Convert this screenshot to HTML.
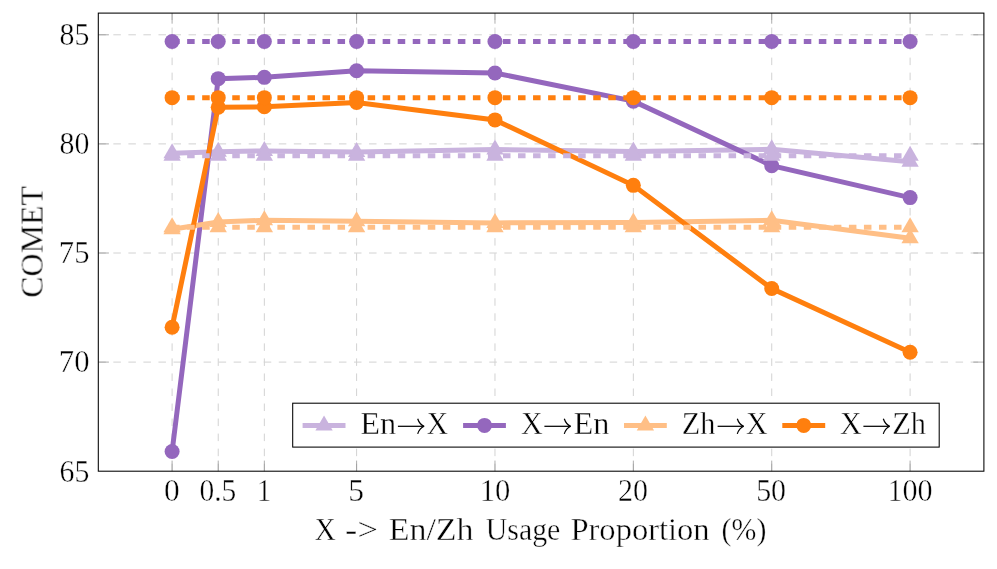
<!DOCTYPE html>
<html><head><meta charset="utf-8"><title>COMET vs Usage Proportion</title>
<style>
html,body{margin:0;padding:0;background:#fff;}
body{width:997px;height:569px;overflow:hidden;font-family:"Liberation Serif",serif;}
svg{display:block;}
text{font-family:"Liberation Serif",serif;fill:#000;stroke:#fff;stroke-width:0.4px;}
</style></head><body>
<svg width="997" height="569" viewBox="0 0 997 569">
<rect x="0" y="0" width="997" height="569" fill="#fff"/>
<g stroke="#d2d2d2" stroke-width="1" stroke-dasharray="7.52 7.52" fill="none">
<line x1="172.10" y1="471.2" x2="172.10" y2="13.1"/>
<line x1="218.22" y1="471.2" x2="218.22" y2="13.1"/>
<line x1="264.35" y1="471.2" x2="264.35" y2="13.1"/>
<line x1="356.60" y1="471.2" x2="356.60" y2="13.1"/>
<line x1="494.98" y1="471.2" x2="494.98" y2="13.1"/>
<line x1="633.35" y1="471.2" x2="633.35" y2="13.1"/>
<line x1="771.73" y1="471.2" x2="771.73" y2="13.1"/>
<line x1="910.10" y1="471.2" x2="910.10" y2="13.1"/>
<line x1="98.3" y1="362.10" x2="983.9" y2="362.10"/>
<line x1="98.3" y1="253.00" x2="983.9" y2="253.00"/>
<line x1="98.3" y1="143.90" x2="983.9" y2="143.90"/>
<line x1="98.3" y1="34.80" x2="983.9" y2="34.80"/>
</g>
<g stroke="#808080" stroke-width="0.65" fill="none">
<line x1="172.10" y1="471.2" x2="172.10" y2="460.59999999999997"/>
<line x1="172.10" y1="13.1" x2="172.10" y2="23.7"/>
<line x1="218.22" y1="471.2" x2="218.22" y2="460.59999999999997"/>
<line x1="218.22" y1="13.1" x2="218.22" y2="23.7"/>
<line x1="264.35" y1="471.2" x2="264.35" y2="460.59999999999997"/>
<line x1="264.35" y1="13.1" x2="264.35" y2="23.7"/>
<line x1="356.60" y1="471.2" x2="356.60" y2="460.59999999999997"/>
<line x1="356.60" y1="13.1" x2="356.60" y2="23.7"/>
<line x1="494.98" y1="471.2" x2="494.98" y2="460.59999999999997"/>
<line x1="494.98" y1="13.1" x2="494.98" y2="23.7"/>
<line x1="633.35" y1="471.2" x2="633.35" y2="460.59999999999997"/>
<line x1="633.35" y1="13.1" x2="633.35" y2="23.7"/>
<line x1="771.73" y1="471.2" x2="771.73" y2="460.59999999999997"/>
<line x1="771.73" y1="13.1" x2="771.73" y2="23.7"/>
<line x1="910.10" y1="471.2" x2="910.10" y2="460.59999999999997"/>
<line x1="910.10" y1="13.1" x2="910.10" y2="23.7"/>
<line x1="98.3" y1="362.10" x2="108.89999999999999" y2="362.10"/>
<line x1="983.9" y1="362.10" x2="973.3" y2="362.10"/>
<line x1="98.3" y1="253.00" x2="108.89999999999999" y2="253.00"/>
<line x1="983.9" y1="253.00" x2="973.3" y2="253.00"/>
<line x1="98.3" y1="143.90" x2="108.89999999999999" y2="143.90"/>
<line x1="983.9" y1="143.90" x2="973.3" y2="143.90"/>
<line x1="98.3" y1="34.80" x2="108.89999999999999" y2="34.80"/>
<line x1="983.9" y1="34.80" x2="973.3" y2="34.80"/>
</g>
<polyline points="172.10,153.28 218.22,151.76 264.35,150.88 356.60,151.97 494.98,149.57 633.35,151.54 771.73,149.35 910.10,161.79" fill="none" stroke="#c9b3de" stroke-width="5.0" stroke-linejoin="miter"/>
<path d="M172.10,143.28 L180.76,158.28 L163.44,158.28 Z" fill="#c9b3de"/>
<path d="M218.22,141.76 L226.88,156.76 L209.56,156.76 Z" fill="#c9b3de"/>
<path d="M264.35,140.88 L273.01,155.88 L255.69,155.88 Z" fill="#c9b3de"/>
<path d="M356.60,141.97 L365.26,156.97 L347.94,156.97 Z" fill="#c9b3de"/>
<path d="M494.98,139.57 L503.64,154.57 L486.31,154.57 Z" fill="#c9b3de"/>
<path d="M633.35,141.54 L642.01,156.54 L624.69,156.54 Z" fill="#c9b3de"/>
<path d="M771.73,139.35 L780.38,154.35 L763.07,154.35 Z" fill="#c9b3de"/>
<path d="M910.10,151.79 L918.76,166.79 L901.44,166.79 Z" fill="#c9b3de"/>
<polyline points="172.10,451.56 218.22,78.66 264.35,77.35 356.60,70.80 494.98,72.98 633.35,101.13 771.73,165.72 910.10,197.58" fill="none" stroke="#9467bd" stroke-width="5.0" stroke-linejoin="miter"/>
<circle cx="172.10" cy="451.56" r="7.5" fill="#9467bd"/>
<circle cx="218.22" cy="78.66" r="7.5" fill="#9467bd"/>
<circle cx="264.35" cy="77.35" r="7.5" fill="#9467bd"/>
<circle cx="356.60" cy="70.80" r="7.5" fill="#9467bd"/>
<circle cx="494.98" cy="72.98" r="7.5" fill="#9467bd"/>
<circle cx="633.35" cy="101.13" r="7.5" fill="#9467bd"/>
<circle cx="771.73" cy="165.72" r="7.5" fill="#9467bd"/>
<circle cx="910.10" cy="197.58" r="7.5" fill="#9467bd"/>
<polyline points="172.10,229.22 218.22,222.02 264.35,220.27 356.60,221.36 494.98,222.89 633.35,222.45 771.73,220.27 910.10,238.16" fill="none" stroke="#ffbf86" stroke-width="5.0" stroke-linejoin="miter"/>
<path d="M172.10,219.22 L180.76,234.22 L163.44,234.22 Z" fill="#ffbf86"/>
<path d="M218.22,212.02 L226.88,227.02 L209.56,227.02 Z" fill="#ffbf86"/>
<path d="M264.35,210.27 L273.01,225.27 L255.69,225.27 Z" fill="#ffbf86"/>
<path d="M356.60,211.36 L365.26,226.36 L347.94,226.36 Z" fill="#ffbf86"/>
<path d="M494.98,212.89 L503.64,227.89 L486.31,227.89 Z" fill="#ffbf86"/>
<path d="M633.35,212.45 L642.01,227.45 L624.69,227.45 Z" fill="#ffbf86"/>
<path d="M771.73,210.27 L780.38,225.27 L763.07,225.27 Z" fill="#ffbf86"/>
<path d="M910.10,228.16 L918.76,243.16 L901.44,243.16 Z" fill="#ffbf86"/>
<polyline points="172.10,327.19 218.22,107.24 264.35,106.81 356.60,102.44 494.98,119.90 633.35,185.36 771.73,288.57 910.10,352.28" fill="none" stroke="#ff7f0e" stroke-width="5.0" stroke-linejoin="miter"/>
<circle cx="172.10" cy="327.19" r="7.5" fill="#ff7f0e"/>
<circle cx="218.22" cy="107.24" r="7.5" fill="#ff7f0e"/>
<circle cx="264.35" cy="106.81" r="7.5" fill="#ff7f0e"/>
<circle cx="356.60" cy="102.44" r="7.5" fill="#ff7f0e"/>
<circle cx="494.98" cy="119.90" r="7.5" fill="#ff7f0e"/>
<circle cx="633.35" cy="185.36" r="7.5" fill="#ff7f0e"/>
<circle cx="771.73" cy="288.57" r="7.5" fill="#ff7f0e"/>
<circle cx="910.10" cy="352.28" r="7.5" fill="#ff7f0e"/>
<line x1="172.10" y1="155.68" x2="910.10" y2="155.68" stroke="#c9b3de" stroke-width="5.0" stroke-dasharray="7.52 7.52"/>
<path d="M172.10,145.68 L180.76,160.68 L163.44,160.68 Z" fill="#c9b3de"/>
<path d="M218.22,145.68 L226.88,160.68 L209.56,160.68 Z" fill="#c9b3de"/>
<path d="M264.35,145.68 L273.01,160.68 L255.69,160.68 Z" fill="#c9b3de"/>
<path d="M356.60,145.68 L365.26,160.68 L347.94,160.68 Z" fill="#c9b3de"/>
<path d="M494.98,145.68 L503.64,160.68 L486.31,160.68 Z" fill="#c9b3de"/>
<path d="M633.35,145.68 L642.01,160.68 L624.69,160.68 Z" fill="#c9b3de"/>
<path d="M771.73,145.68 L780.38,160.68 L763.07,160.68 Z" fill="#c9b3de"/>
<path d="M910.10,145.68 L918.76,160.68 L901.44,160.68 Z" fill="#c9b3de"/>
<line x1="172.10" y1="41.56" x2="910.10" y2="41.56" stroke="#9467bd" stroke-width="5.0" stroke-dasharray="7.52 7.52"/>
<circle cx="172.10" cy="41.56" r="7.5" fill="#9467bd"/>
<circle cx="218.22" cy="41.56" r="7.5" fill="#9467bd"/>
<circle cx="264.35" cy="41.56" r="7.5" fill="#9467bd"/>
<circle cx="356.60" cy="41.56" r="7.5" fill="#9467bd"/>
<circle cx="494.98" cy="41.56" r="7.5" fill="#9467bd"/>
<circle cx="633.35" cy="41.56" r="7.5" fill="#9467bd"/>
<circle cx="771.73" cy="41.56" r="7.5" fill="#9467bd"/>
<circle cx="910.10" cy="41.56" r="7.5" fill="#9467bd"/>
<line x1="172.10" y1="227.25" x2="910.10" y2="227.25" stroke="#ffbf86" stroke-width="5.0" stroke-dasharray="7.52 7.52"/>
<path d="M172.10,217.25 L180.76,232.25 L163.44,232.25 Z" fill="#ffbf86"/>
<path d="M218.22,217.25 L226.88,232.25 L209.56,232.25 Z" fill="#ffbf86"/>
<path d="M264.35,217.25 L273.01,232.25 L255.69,232.25 Z" fill="#ffbf86"/>
<path d="M356.60,217.25 L365.26,232.25 L347.94,232.25 Z" fill="#ffbf86"/>
<path d="M494.98,217.25 L503.64,232.25 L486.31,232.25 Z" fill="#ffbf86"/>
<path d="M633.35,217.25 L642.01,232.25 L624.69,232.25 Z" fill="#ffbf86"/>
<path d="M771.73,217.25 L780.38,232.25 L763.07,232.25 Z" fill="#ffbf86"/>
<path d="M910.10,217.25 L918.76,232.25 L901.44,232.25 Z" fill="#ffbf86"/>
<line x1="172.10" y1="97.64" x2="910.10" y2="97.64" stroke="#ff7f0e" stroke-width="5.0" stroke-dasharray="7.52 7.52"/>
<circle cx="172.10" cy="97.64" r="7.5" fill="#ff7f0e"/>
<circle cx="218.22" cy="97.64" r="7.5" fill="#ff7f0e"/>
<circle cx="264.35" cy="97.64" r="7.5" fill="#ff7f0e"/>
<circle cx="356.60" cy="97.64" r="7.5" fill="#ff7f0e"/>
<circle cx="494.98" cy="97.64" r="7.5" fill="#ff7f0e"/>
<circle cx="633.35" cy="97.64" r="7.5" fill="#ff7f0e"/>
<circle cx="771.73" cy="97.64" r="7.5" fill="#ff7f0e"/>
<circle cx="910.10" cy="97.64" r="7.5" fill="#ff7f0e"/>
<rect x="98.3" y="13.1" width="885.60" height="458.10" fill="none" stroke="#000" stroke-width="1.05"/>
<rect x="292.7" y="403.2" width="646.50" height="43.90" fill="#fff" stroke="#000" stroke-width="1.05"/>
<g style="opacity:0.999">
<line x1="302.6" y1="425.4" x2="345.5" y2="425.4" stroke="#c9b3de" stroke-width="5.0"/>
<path d="M324.05,415.40 L332.71,430.40 L315.39,430.40 Z" fill="#c9b3de"/>
<text transform="translate(360.23,434.00) scale(1.0281,1)" font-size="31.5">En</text>
<path d="M397.90,426.30 L423.60,426.30" stroke="#000" stroke-width="1.25" fill="none"/><path d="M417.70,418.70 Q419.50,424.30 424.10,426.30 Q419.50,428.30 417.70,433.90" stroke="#000" stroke-width="1.25" fill="none" stroke-linejoin="bevel"/>
<text transform="translate(426.52,434.00) scale(0.9563,1)" font-size="31.5">X</text>
<line x1="463.1" y1="425.4" x2="505.9" y2="425.4" stroke="#9467bd" stroke-width="5.0"/>
<circle cx="484.50" cy="425.40" r="7.5" fill="#9467bd"/>
<text transform="translate(521.02,434.00) scale(0.9563,1)" font-size="31.5">X</text>
<path d="M544.40,426.30 L570.20,426.30" stroke="#000" stroke-width="1.25" fill="none"/><path d="M564.30,418.70 Q566.10,424.30 570.70,426.30 Q566.10,428.30 564.30,433.90" stroke="#000" stroke-width="1.25" fill="none" stroke-linejoin="bevel"/>
<text transform="translate(573.43,434.00) scale(1.0252,1)" font-size="31.5">En</text>
<line x1="624.0" y1="425.4" x2="666.8" y2="425.4" stroke="#ffbf86" stroke-width="5.0"/>
<path d="M645.40,415.40 L654.06,430.40 L636.74,430.40 Z" fill="#ffbf86"/>
<text transform="translate(681.76,434.00) scale(0.9594,1)" font-size="31.5">Zh</text>
<path d="M717.60,426.30 L743.20,426.30" stroke="#000" stroke-width="1.25" fill="none"/><path d="M737.30,418.70 Q739.10,424.30 743.70,426.30 Q739.10,428.30 737.30,433.90" stroke="#000" stroke-width="1.25" fill="none" stroke-linejoin="bevel"/>
<text transform="translate(745.92,434.00) scale(0.9517,1)" font-size="31.5">X</text>
<line x1="782.3" y1="425.4" x2="825.2" y2="425.4" stroke="#ff7f0e" stroke-width="5.0"/>
<circle cx="803.75" cy="425.40" r="7.5" fill="#ff7f0e"/>
<text transform="translate(840.02,434.00) scale(0.9563,1)" font-size="31.5">X</text>
<path d="M863.40,426.30 L889.20,426.30" stroke="#000" stroke-width="1.25" fill="none"/><path d="M883.30,418.70 Q885.10,424.30 889.70,426.30 Q885.10,428.30 883.30,433.90" stroke="#000" stroke-width="1.25" fill="none" stroke-linejoin="bevel"/>
<text transform="translate(892.25,434.00) scale(0.9654,1)" font-size="31.5">Zh</text>
<text transform="translate(59.61,481.50) scale(0.9483,1)" font-size="31.5">65</text>
<text transform="translate(58.85,372.40) scale(0.9735,1)" font-size="31.5">70</text>
<text transform="translate(58.85,263.30) scale(0.9735,1)" font-size="31.5">75</text>
<text transform="translate(59.61,154.20) scale(0.9483,1)" font-size="31.5">80</text>
<text transform="translate(59.61,45.10) scale(0.9483,1)" font-size="31.5">85</text>
<text transform="translate(163.95,500.50) scale(0.9962,1)" font-size="31.5">0</text>
<text transform="translate(199.43,500.50) scale(0.9351,1)" font-size="31.5">0.5</text>
<text transform="translate(257.03,500.50) scale(0.8978,1)" font-size="31.5">1</text>
<text transform="translate(348.24,500.50) scale(1.0039,1)" font-size="31.5">5</text>
<text transform="translate(479.83,500.50) scale(0.9709,1)" font-size="31.5">10</text>
<text transform="translate(617.91,500.50) scale(0.9517,1)" font-size="31.5">20</text>
<text transform="translate(756.14,500.50) scale(0.9509,1)" font-size="31.5">50</text>
<text transform="translate(887.47,500.50) scale(0.9572,1)" font-size="31.5">100</text>
<text transform="translate(314.43,540.30) scale(0.9379,1)" font-size="31.5">X</text>
<text transform="translate(345.03,540.30) scale(1.1689,1)" font-size="31.5">-&gt;</text>
<text transform="translate(388.69,540.30) scale(1.0778,1)" font-size="31.5">En/Zh</text>
<text transform="translate(485.73,540.30) scale(0.9489,1)" font-size="31.5">Usage</text>
<text transform="translate(570.42,540.30) scale(1.0337,1)" font-size="31.5">Proportion</text>
<text transform="translate(721.62,540.30) scale(0.9475,1)" font-size="31.5">(%)</text>
<text transform="translate(42.6,297.77) rotate(-90) scale(1.0147,1)" font-size="31.5">COMET</text>
</g>
</svg></body></html>
